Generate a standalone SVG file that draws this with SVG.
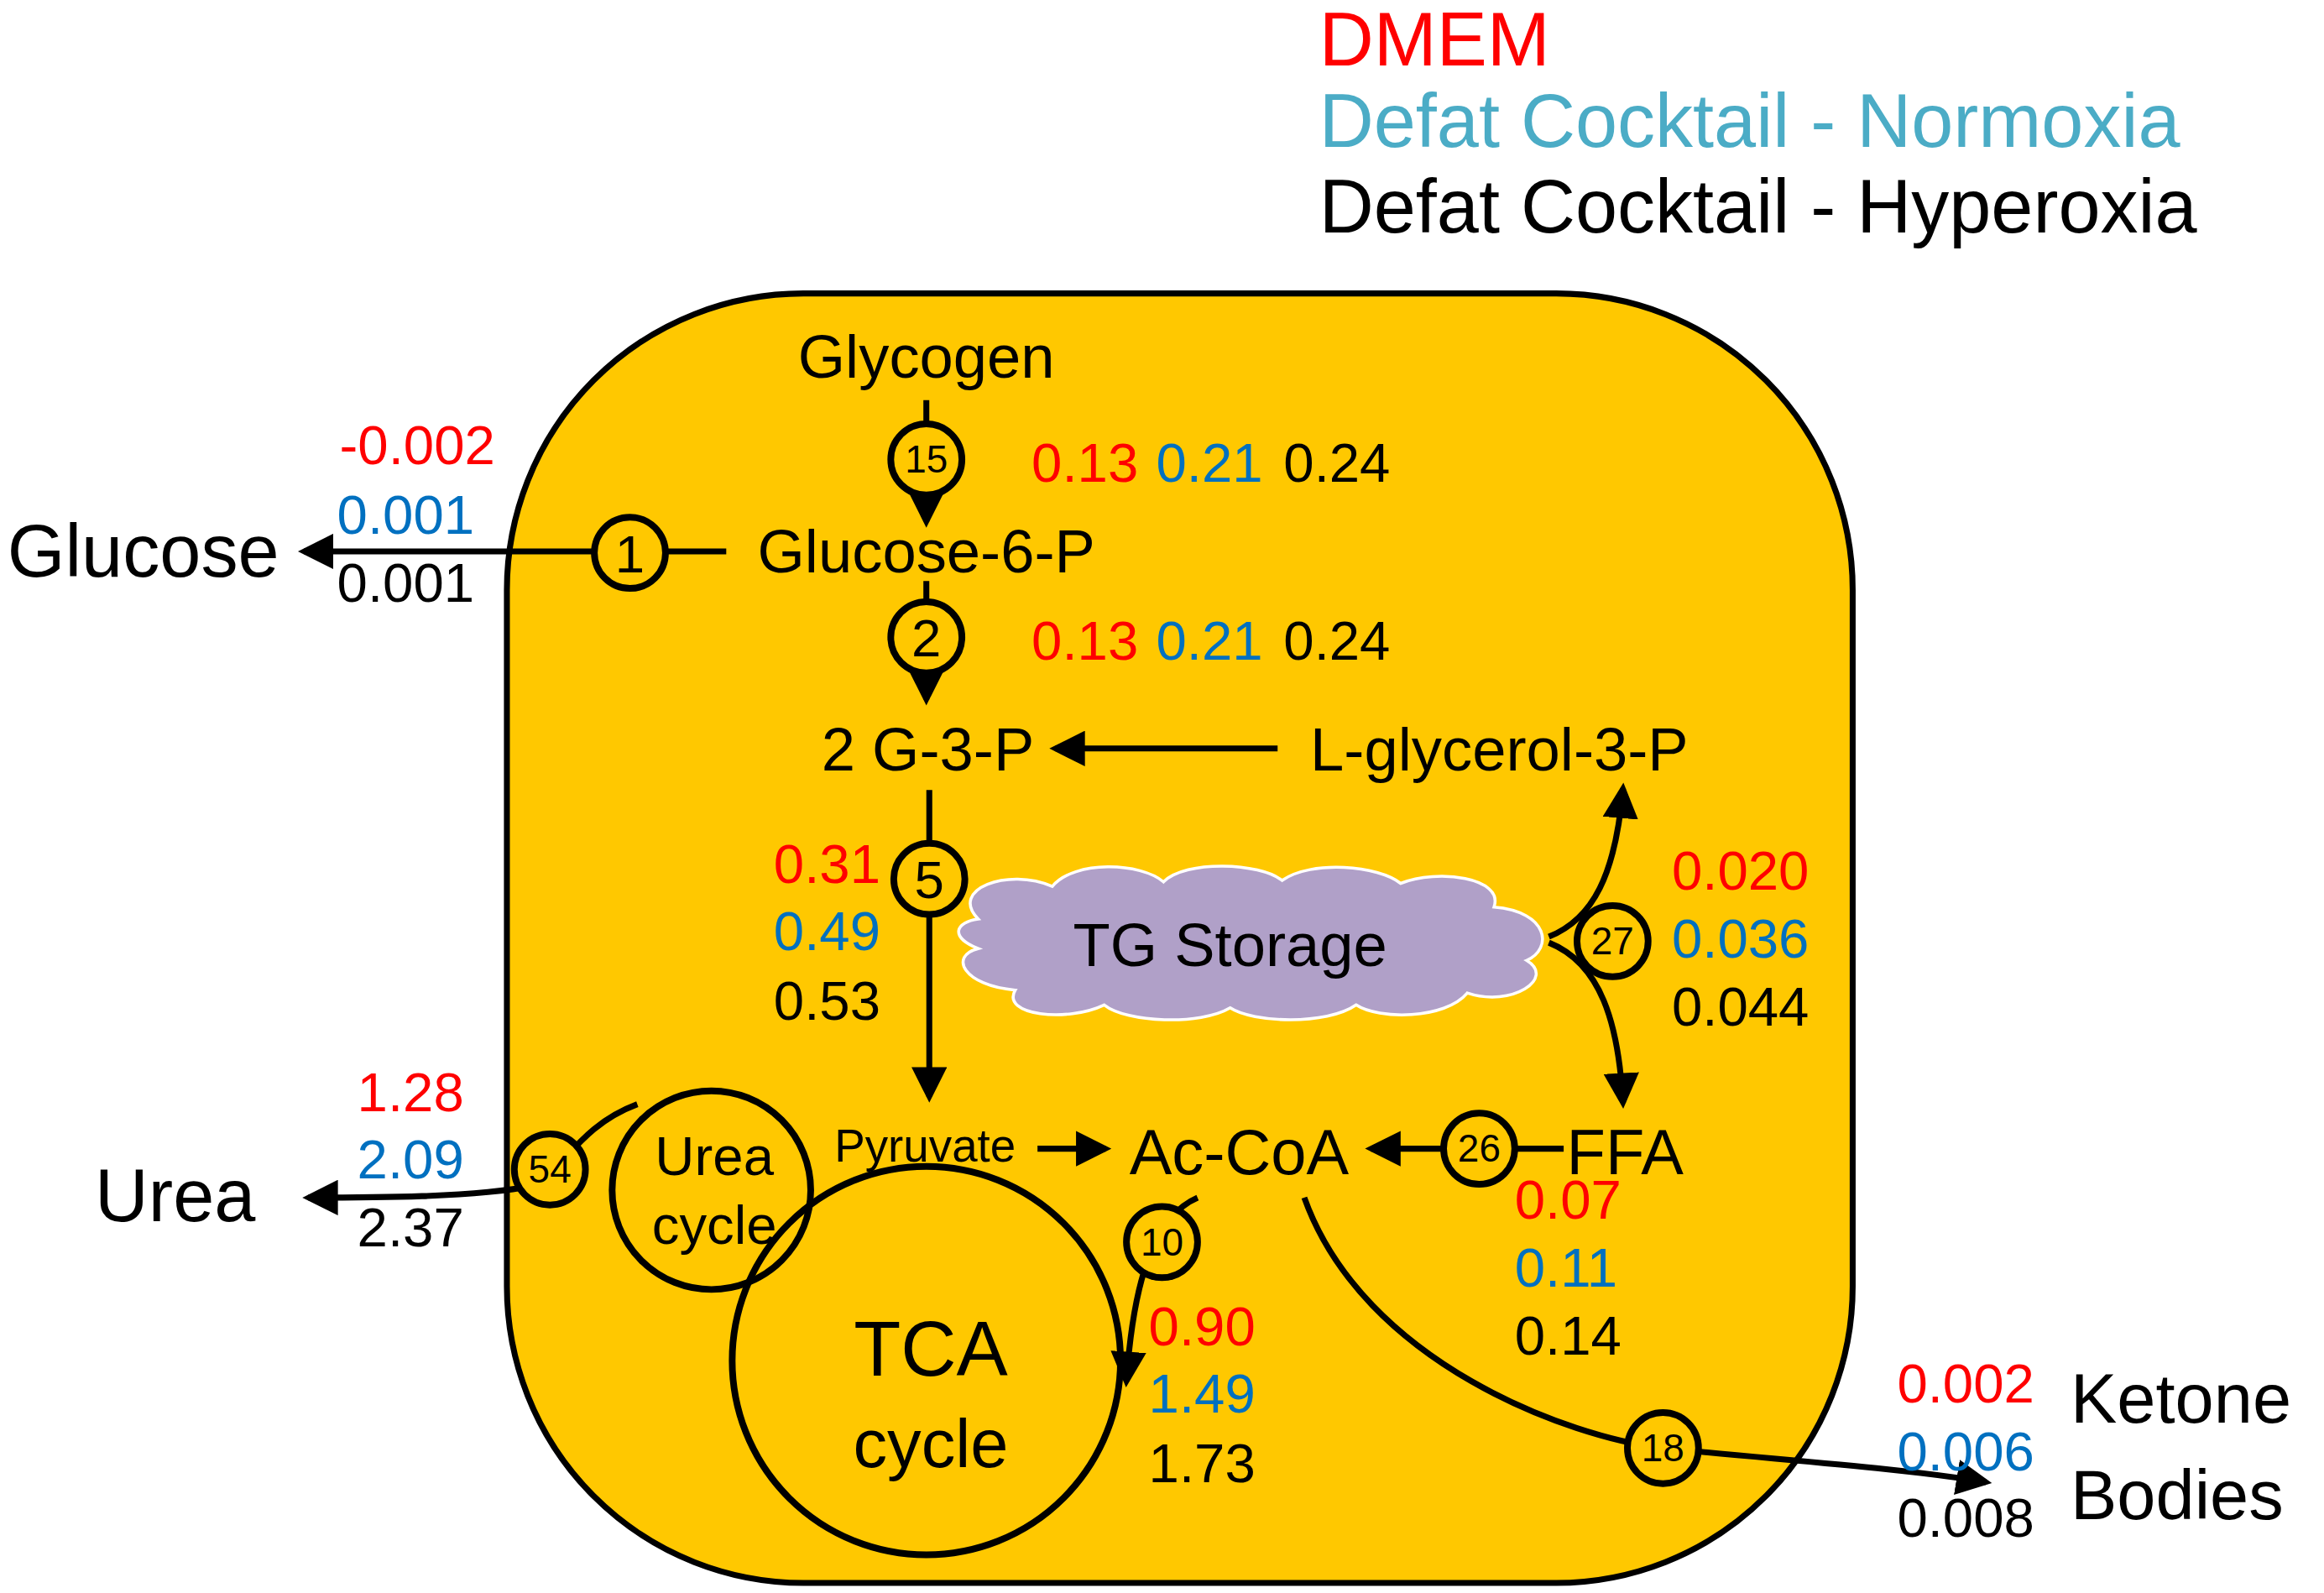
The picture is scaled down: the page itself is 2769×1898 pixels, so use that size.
<svg xmlns="http://www.w3.org/2000/svg" width="2769" height="1898" viewBox="0 0 2769 1898">
<style>
text{font-family:"Liberation Sans",Arial,sans-serif;fill:#000}
.r{fill:#FF0000}.b{fill:#0070C0}.c{fill:#4BACC6}
.v{font-size:37px}.m{font-size:41px}.l{font-size:47px}
.ln{fill:none;stroke:#000;stroke-width:4}
.cir{stroke:#000;stroke-width:4.5}
.n{font-size:26px;text-anchor:middle}
.d{font-size:36px;text-anchor:middle}
</style>
<defs>
<marker id="a" markerWidth="6" markerHeight="6" refX="5" refY="3" orient="auto" markerUnits="strokeWidth"><path d="M0,0L6,3L0,6z" fill="#000"/></marker>
</defs>
<rect width="2769" height="1898" fill="#fff"/>
<g transform="scale(1.76594)">
<g id="legend">
<text x="890" y="44" class="r" font-size="51">DMEM</text>
<text x="890" y="99" class="c" font-size="51">Defat Cocktail - Normoxia</text>
<text x="890" y="157" font-size="51">Defat Cocktail - Hyperoxia</text>
</g>
<g id="cell"><rect x="342" y="198" width="908" height="870" rx="200" fill="#FFC800" stroke="#000" stroke-width="4"/></g>
<g id="tg"><path d="M660,620 C640,600 680,585 710,598 C725,580 770,582 785,595 C800,580 850,582 865,594 C885,580 930,584 945,596 C970,586 1015,592 1008,612 C1045,615 1048,640 1030,648 C1050,660 1020,680 990,670 C975,688 930,688 915,678 C895,692 845,690 830,680 C810,692 760,690 745,678 C720,690 675,685 685,668 C650,665 640,645 660,640 C640,632 645,622 660,620Z" fill="#B0A0C8" stroke="#fff" stroke-width="2"/>
<text x="830" y="652" class="m" text-anchor="middle">TG Storage</text></g>
<g id="urea-cycle"><circle cx="480" cy="803" r="67" fill="none" class="cir"/><text x="482" y="793" class="v" text-anchor="middle">Urea</text><text x="482" y="839" class="v" text-anchor="middle">cycle</text></g>
<g id="tca"><circle cx="625" cy="918" r="131" fill="none" class="cir"/><text x="628" y="928" font-size="52" text-anchor="middle">TCA</text><text x="628" y="990" font-size="46" text-anchor="middle">cycle</text></g>
<g id="connectors">
<path class="ln" d="M625,270V352" marker-end="url(#a)"/>
<path class="ln" d="M490,372H205" marker-end="url(#a)"/>
<path class="ln" d="M625,392V472" marker-end="url(#a)"/>
<path class="ln" d="M862,505H712" marker-end="url(#a)"/>
<path class="ln" d="M627,533V740" marker-end="url(#a)"/>
<path class="ln" d="M1045,632 C1075,620 1090,590 1095,532" marker-end="url(#a)"/>
<path class="ln" d="M1045,636 C1080,650 1092,690 1095,744" marker-end="url(#a)"/>
<path class="ln" d="M700,775H746" marker-end="url(#a)"/>
<path class="ln" d="M1055,775H925" marker-end="url(#a)"/>
<path class="ln" d="M430,745 C390,760 380,790 360,800 C320,808 250,808 208,808" marker-end="url(#a)"/>
<path class="ln" d="M808,808 C780,820 765,860 760,932" marker-end="url(#a)"/>
<path class="ln" d="M880,808 C920,920 1060,970 1122,977 C1200,985 1280,990 1340,1000" marker-end="url(#a)"/>
</g>
<g id="n15"><circle cx="625" cy="310" r="24" fill="#FFC800" class="cir"/><text x="625" y="319" class="n">15</text></g>
<g id="n1"><circle cx="425" cy="373" r="24" fill="#FFC800" class="cir"/><text x="425" y="386" class="d">1</text></g>
<g id="n2"><circle cx="625" cy="430" r="24" fill="#FFC800" class="cir"/><text x="625" y="443" class="d">2</text></g>
<g id="n5"><circle cx="627" cy="593" r="24" fill="#FFC800" class="cir"/><text x="627" y="606" class="d">5</text></g>
<g id="n27"><circle cx="1088" cy="635" r="24" fill="#FFC800" class="cir"/><text x="1088" y="644" class="n">27</text></g>
<g id="n26"><circle cx="998" cy="775" r="24" fill="#FFC800" class="cir"/><text x="998" y="784" class="n">26</text></g>
<g id="n54"><circle cx="371" cy="789" r="24" fill="#FFC800" class="cir"/><text x="371" y="798" class="n">54</text></g>
<g id="n10"><circle cx="784" cy="838" r="24" fill="#FFC800" class="cir"/><text x="784" y="847" class="n">10</text></g>
<g id="n18"><circle cx="1122" cy="977" r="24" fill="#FFC800" class="cir"/><text x="1122" y="986" class="n">18</text></g>
<g id="labels">
<text x="625" y="255" class="m" text-anchor="middle">Glycogen</text>
<text x="625" y="386" class="m" text-anchor="middle">Glucose-6-P</text>
<text x="5" y="389" font-size="50">Glucose</text>
<text x="626" y="520" class="m" text-anchor="middle">2 G-3-P</text>
<text x="884" y="520" class="m">L-glycerol-3-P</text>
<text x="563" y="784" font-size="31">Pyruvate</text>
<text x="762" y="792" font-size="43">Ac-CoA</text>
<text x="1057" y="792" font-size="43">FFA</text>
<text x="64" y="824" font-size="50">Urea</text>
<text x="1397" y="960" class="l">Ketone</text>
<text x="1397" y="1025" class="l">Bodies</text>
</g>
<g id="values" class="v">
<text x="696" y="325" class="r">0.13</text><text x="780" y="325" class="b">0.21</text><text x="866" y="325">0.24</text>
<text x="696" y="445" class="r">0.13</text><text x="780" y="445" class="b">0.21</text><text x="866" y="445">0.24</text>
<text x="334" y="313" class="r" text-anchor="end">-0.002</text><text x="320" y="360" class="b" text-anchor="end">0.001</text><text x="320" y="406" text-anchor="end">0.001</text>
<text x="522" y="596" class="r">0.31</text><text x="522" y="641" class="b">0.49</text><text x="522" y="688">0.53</text>
<text x="1128" y="600" class="r">0.020</text><text x="1128" y="646" class="b">0.036</text><text x="1128" y="692">0.044</text>
<text x="1022" y="822" class="r">0.07</text><text x="1022" y="868" class="b">0.11</text><text x="1022" y="914">0.14</text>
<text x="313" y="750" class="r" text-anchor="end">1.28</text><text x="313" y="795" class="b" text-anchor="end">2.09</text><text x="313" y="841" text-anchor="end">2.37</text>
<text x="775" y="908" class="r">0.90</text><text x="775" y="953" class="b">1.49</text><text x="775" y="1000">1.73</text>
<text x="1280" y="946" class="r">0.002</text><text x="1280" y="992" class="b">0.006</text><text x="1280" y="1037">0.008</text>
</g>
</g>
</svg>
